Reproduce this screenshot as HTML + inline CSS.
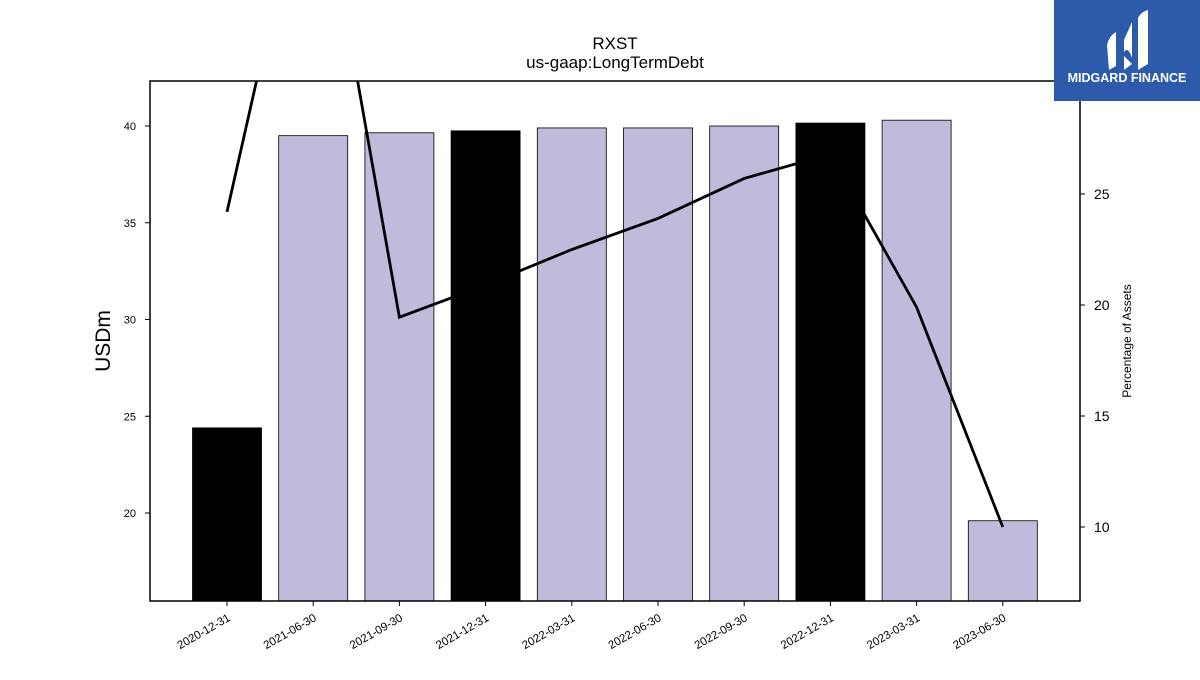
<!DOCTYPE html>
<html><head><meta charset="utf-8"><style>
body{margin:0;background:#fff;width:1200px;height:675px;overflow:hidden;font-family:"Liberation Sans",sans-serif}
</style></head><body>
<svg width="1200" height="675" xmlns="http://www.w3.org/2000/svg">
<text x="615" y="49" text-anchor="middle" font-size="17">RXST</text>
<text x="615" y="68" text-anchor="middle" font-size="17">us-gaap:LongTermDebt</text>
<defs><clipPath id="pc"><rect x="150" y="81" width="930" height="520"/></clipPath></defs>
<g id="bars" clip-path="url(#pc)"></g>
<g id="line" clip-path="url(#pc)"></g>
<rect x="150" y="81" width="930" height="520" fill="none" stroke="#000" stroke-width="1.5"/>
<g id="axes"></g>
<text transform="translate(110,341) rotate(-90)" text-anchor="middle" font-size="21">USDm</text>
<text transform="translate(1131,341) rotate(-90)" text-anchor="middle" font-size="12">Percentage of Assets</text>
<g>
<rect x="1054" y="0" width="146" height="101" fill="#2d5aab"/>
<path d="M1107 45 Q1109 36 1116 32 L1116 66 L1109 70 Z M1124 40 L1132 22 L1132 58 Q1128 46 1124 52 Z M1124 56 L1132 64 L1124 70 Z M1138 18 Q1141 12 1148 10 L1148 64 L1138 70 Z" fill="#fff"/>
<text x="1127" y="82" text-anchor="middle" font-size="12.5" font-weight="bold" fill="#fff">MIDGARD FINANCE</text>
</g>
</svg>
<script>
const categories=["2020-12-31","2021-06-30","2021-09-30","2021-12-31","2022-03-31","2022-06-30","2022-09-30","2022-12-31","2023-03-31","2023-06-30"];
const debtValues=[24.4,39.5,39.65,39.75,39.9,39.9,40.0,40.15,40.3,19.6];
const pctValues=[24.2,41.4,19.45,20.9,22.5,23.9,25.7,26.8,19.9,10.0];
const yTicks=[20,25,30,35,40];
const y2Ticks=[10,15,20,25];
const NS="http://www.w3.org/2000/svg";
const x=i=>227+i*86.2;
const y=v=>126+(40-v)*19.35;
const y2=v=>194+(25-v)*22.2;
function mk(t,a,p){const e=document.createElementNS(NS,t);for(const k in a)e.setAttribute(k,a[k]);p.appendChild(e);return e;}
const bars=document.getElementById('bars'),line=document.getElementById('line'),axes=document.getElementById('axes');
debtValues.forEach((v,i)=>{
 const black=categories[i].endsWith('12-31');
 const r=mk('rect',{x:x(i)-34.5,y:y(v),width:69,height:601-y(v),fill:black?'#000':'#bebbdb',stroke:'#000','stroke-width':0.8},bars);
 
 
});
const pl=mk('polyline',{points:pctValues.map((v,i)=>x(i)+','+y2(v)).join(' '),fill:'none',stroke:'#000','stroke-width':2.8},line);


yTicks.forEach(t=>{
 mk('line',{x1:145,x2:150,y1:y(t),y2:y(t),stroke:'#000'},axes);
 const tx=mk('text',{x:136,y:y(t)+4,'text-anchor':'end','font-size':11},axes);tx.textContent=t;
 
 
});
y2Ticks.forEach(t=>{
 mk('line',{x1:1080,x2:1085,y1:y2(t),y2:y2(t),stroke:'#000'},axes);
 const tx=mk('text',{x:1094,y:y2(t)+5,'font-size':14},axes);tx.textContent=t;
 
 
});
categories.forEach((c,i)=>{
 mk('line',{x1:x(i),x2:x(i),y1:601,y2:606,stroke:'#000'},axes);
 const tx=mk('text',{transform:`translate(${x(i)+4},620) rotate(-30)`,'text-anchor':'end','font-size':11.5},axes);tx.textContent=c;
 
 
});
</script>
</body></html>
